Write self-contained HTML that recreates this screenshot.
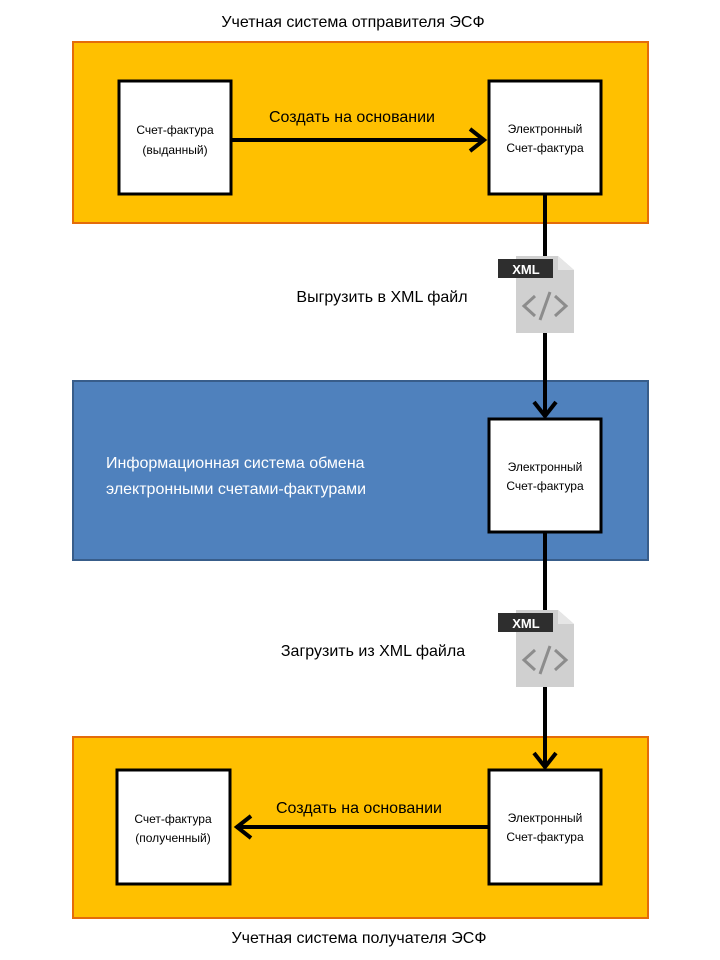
<!DOCTYPE html>
<html><head><meta charset="utf-8"><style>
html,body{margin:0;padding:0;background:#fff;}
svg{display:block;}
text{font-family:"Liberation Sans","DejaVu Sans",sans-serif;}
</style></head><body>
<svg width="720" height="960" viewBox="0 0 720 960" xmlns="http://www.w3.org/2000/svg">
<defs>
<g id="xml">
  <path d="M516,0 h42 l16,14 v63 h-58 z" fill="#d0d0d0"/>
  <path d="M558,0 v14 h16 z" fill="#e6e6e6"/>
  <rect x="498" y="3" width="55" height="19" fill="#2e2e2e"/>
  <text x="526" y="18" font-size="13" font-weight="bold" fill="#fff" text-anchor="middle">XML</text>
  <path d="M535,40 l-11,10 l11,10 M555,40 l11,10 l-11,10 M550,36 l-10,28" fill="none" stroke="#8c8c8c" stroke-width="3"/>
</g>
</defs>
<text x="353" y="27" font-size="16" fill="#000" text-anchor="middle">Учетная система отправителя ЭСФ</text>
<rect x="73" y="42" width="575" height="181" fill="#ffc000" stroke="#e46c0a" stroke-width="2"/>
<rect x="73" y="381" width="575" height="179" fill="#4f81bd" stroke="#385d8a" stroke-width="2"/>
<rect x="73" y="737" width="575" height="181" fill="#ffc000" stroke="#e46c0a" stroke-width="2"/>

<line x1="545" y1="194" x2="545" y2="414" stroke="#000" stroke-width="4"/>
<path d="M534,402 l11,14 l11,-14" fill="none" stroke="#000" stroke-width="4"/>
<line x1="545" y1="532" x2="545" y2="764" stroke="#000" stroke-width="4"/>
<path d="M534,753 l11,14 l11,-14" fill="none" stroke="#000" stroke-width="4"/>
<use href="#xml" transform="translate(0,256)"/>
<use href="#xml" transform="translate(0,610)"/>

<rect x="119" y="81" width="112" height="113" fill="#fff" stroke="#000" stroke-width="3"/>
<text x="175" y="134" font-size="12" text-anchor="middle">Счет-фактура</text>
<text x="175" y="154" font-size="12" text-anchor="middle">(выданный)</text>
<rect x="489" y="81" width="112" height="113" fill="#fff" stroke="#000" stroke-width="3"/>
<text x="545" y="133" font-size="12" text-anchor="middle">Электронный</text>
<text x="545" y="152" font-size="12" text-anchor="middle">Счет-фактура</text>
<line x1="231" y1="140" x2="484" y2="140" stroke="#000" stroke-width="4"/>
<path d="M470,129 l14,11 l-14,11" fill="none" stroke="#000" stroke-width="4"/>
<text x="352" y="122" font-size="16" text-anchor="middle">Создать на основании</text>

<text x="382" y="302" font-size="16" text-anchor="middle">Выгрузить в XML файл</text>

<text x="106" y="468" font-size="16" fill="#fff">Информационная система обмена</text>
<text x="106" y="494" font-size="16" fill="#fff">электронными счетами-фактурами</text>
<rect x="489" y="419" width="112" height="113" fill="#fff" stroke="#000" stroke-width="3"/>
<text x="545" y="471" font-size="12" text-anchor="middle">Электронный</text>
<text x="545" y="490" font-size="12" text-anchor="middle">Счет-фактура</text>

<text x="373" y="656" font-size="16" text-anchor="middle">Загрузить из XML файла</text>

<rect x="117" y="770" width="113" height="114" fill="#fff" stroke="#000" stroke-width="3"/>
<text x="173" y="823" font-size="12" text-anchor="middle">Счет-фактура</text>
<text x="173" y="842" font-size="12" text-anchor="middle">(полученный)</text>
<rect x="489" y="770" width="112" height="114" fill="#fff" stroke="#000" stroke-width="3"/>
<text x="545" y="822" font-size="12" text-anchor="middle">Электронный</text>
<text x="545" y="841" font-size="12" text-anchor="middle">Счет-фактура</text>
<line x1="236" y1="827" x2="489" y2="827" stroke="#000" stroke-width="4"/>
<path d="M251,816 l-14,11 l14,11" fill="none" stroke="#000" stroke-width="4"/>
<text x="359" y="813" font-size="16" text-anchor="middle">Создать на основании</text>
<text x="359" y="943" font-size="16" text-anchor="middle">Учетная система получателя ЭСФ</text>
</svg>
</body></html>
